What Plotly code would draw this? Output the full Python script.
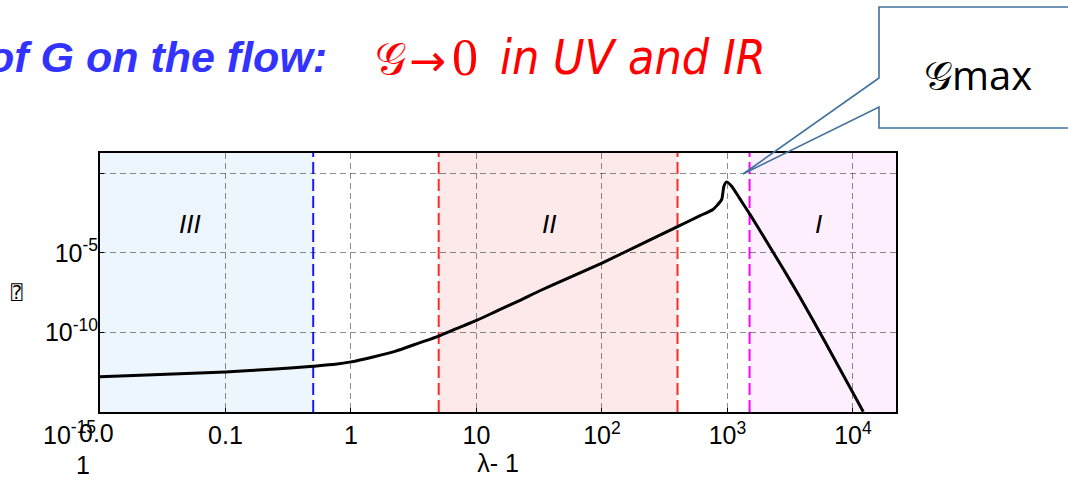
import numpy as np
import plotly.graph_objects as go

# Flow parameter (lambda - 1) and log10 of the coupling G along the trajectory
lam_minus_1 = [0.01, 0.03, 0.1, 0.25, 0.5, 0.75, 1, 1.5, 2.24, 3.5, 5, 7, 10, 15, 22, 32, 50,
               100, 200, 400, 600, 767, 830, 900, 937, 985, 1080, 1250, 1511, 2000,
               2787, 3784, 6000, 12080]
log10_G = [-12.79, -12.64, -12.48, -12.3, -12.12, -12.0, -11.85, -11.54, -11.19, -10.66, -10.23,
           -9.75, -9.25, -8.6, -8.0, -7.38, -6.7, -5.64, -4.5, -3.35, -2.68, -2.27,
           -2.0, -1.64, -0.81, -0.54, -0.81, -1.58, -2.58, -4.15, -6.02, -7.79, -10.6, -14.98]
G = [10.0 ** v for v in log10_G]

# Regime boundaries in lambda - 1
region_III = [0.01, 0.5]
region_II = [5, 400]
region_I = [1500, 1e5]

x_tickvals = [0.1, 1, 10, 100, 1000, 10000]
x_ticktext = ["0.1", "1", "10", "10<sup>2</sup>", "10<sup>3</sup>", "10<sup>4</sup>"]
y_tickvals = [1e-10, 1e-5, 1]
y_ticktext = ["10<sup>-10</sup>", "10<sup>-5</sup>", ""]

# Region labels: (text, lambda-1, G)
region_labels = [("III", 0.052, 6.2e-4), ("II", 37.8, 6.2e-4), ("I", 5358, 6.2e-4)]

W, H = 1068, 483
ML, MR, MT, MB = 100, 172, 153, 71
PW, PH = W - ML - MR, H - MT - MB


def px(x):
    return (x - ML) / PW


def py(y):
    return (H - MB - y) / PH


SANS = "Liberation Sans, Arial, sans-serif"
GRID = "rgba(0,0,0,0.45)"

fig = go.Figure()

fig.add_trace(go.Scatter(x=lam_minus_1, y=G, mode="lines",
                         line=dict(color="black", width=3, shape="spline", smoothing=0.6),
                         hoverinfo="skip"))

shapes = []
for (x0, x1), fill in [(region_III, "rgb(237,245,253)"),
                       (region_II, "rgb(253,233,234)"),
                       (region_I, "rgb(253,239,253)")]:
    shapes.append(dict(type="rect", xref="x", yref="paper", x0=x0, x1=x1, y0=0, y1=1,
                       fillcolor=fill, line=dict(width=0), layer="below"))

for xv, col in [(region_III[1], "#1a1aff"), (region_II[0], "#ff2a2a"),
                (region_II[1], "#ff2a2a"), (region_I[0], "#ff00ff")]:
    shapes.append(dict(type="line", xref="x", yref="paper", x0=xv, x1=xv, y0=0, y1=1,
                       line=dict(color=col, width=2, dash="12px,5px"), layer="below"))

# Callout box with pointer towards the maximum
callout = [(1080, 7), (879, 7), (879, 78), (743, 174), (879, 107), (879, 128), (1080, 128)]
path = "M " + " L ".join(f"{px(a):.5f},{py(b):.5f}" for a, b in callout)
shapes.append(dict(type="path", xref="paper", yref="paper", path=path,
                   line=dict(color="#41719C", width=1.6), fillcolor="rgba(0,0,0,0)",
                   layer="above"))

annotations = []
for txt, xv, yv in region_labels:
    annotations.append(dict(x=np.log10(xv), y=np.log10(yv), xref="x", yref="y",
                            text=f"<i>{txt}</i>", showarrow=False,
                            font=dict(family=SANS, size=26, color="black")))

# Odd first tick label at the left edge and bottom y label
annotations += [
    dict(x=px(98), y=py(433), xref="paper", yref="paper", xanchor="right", yanchor="middle",
         text="10<sup>-15</sup>", showarrow=False, font=dict(family=SANS, size=25, color="black")),
    dict(x=px(96), y=py(433), xref="paper", yref="paper", xanchor="center", yanchor="middle",
         text="0.0", showarrow=False, font=dict(family=SANS, size=25, color="black")),
    dict(x=px(83), y=py(465), xref="paper", yref="paper", xanchor="center", yanchor="middle",
         text="1", showarrow=False, font=dict(family=SANS, size=25, color="black")),
    dict(x=px(17), y=py(292), xref="paper", yref="paper", xanchor="center", yanchor="middle",
         text="⍰", showarrow=False, font=dict(family="DejaVu Sans Mono, DejaVu Sans", size=19, color="black")),
]

# Heading line
annotations += [
    dict(x=px(329), y=py(57), xref="paper", yref="paper", xanchor="right", yanchor="middle",
         text="<b><i>of G on the flow:</i></b>", showarrow=False,
         font=dict(family=SANS, size=43, color="#3333ff")),
    dict(x=px(390), y=py(58), xref="paper", yref="paper", xanchor="center", yanchor="middle",
         text="𝒢", showarrow=False,
         font=dict(family="DejaVu Serif, Noto Sans, serif", size=44, color="#ff0000")),
    dict(x=px(427), y=py(60), xref="paper", yref="paper", xanchor="center", yanchor="middle",
         text="→", showarrow=False,
         font=dict(family="DejaVu Sans, sans-serif", size=44, color="#ff0000")),
    dict(x=px(465), y=py(57), xref="paper", yref="paper", xanchor="center", yanchor="middle",
         text="0", showarrow=False,
         font=dict(family="Liberation Serif, serif", size=52, color="#ff0000")),
    dict(x=px(498), y=py(57), xref="paper", yref="paper", xanchor="left", yanchor="middle",
         text="<i>in UV and IR</i>", showarrow=False,
         font=dict(family="Liberation Sans Narrow, DejaVu Sans Condensed, Liberation Sans",
                   size=48, color="#ff0000")),
    dict(x=px(978), y=py(75), xref="paper", yref="paper", xanchor="center", yanchor="middle",
         text="𝒢max", showarrow=False,
         font=dict(family="Open Sans, Noto Sans, sans-serif", size=40, color="black")),
]

axis_common = dict(
    type="log", showline=True, mirror=True, linecolor="black", linewidth=2,
    ticks="inside", ticklen=4, tickcolor="black", tickwidth=1,
    showgrid=True, gridcolor=GRID, gridwidth=1, griddash="6px,4px",
    zeroline=False, tickfont=dict(family=SANS, size=25, color="black"),
)

fig.update_xaxes(range=[-2, 4.343], tickmode="array", tickvals=x_tickvals,
                 ticktext=x_ticktext,
                 title=dict(text="λ- 1", font=dict(family=SANS, size=25, color="black"),
                            standoff=6),
                 **axis_common)
fig.update_yaxes(range=[-15, 1.275], tickmode="array", tickvals=y_tickvals,
                 ticktext=y_ticktext, ticklabelstandoff=-5, **axis_common)

fig.update_layout(
    width=W, height=H, margin=dict(l=ML, r=MR, t=MT, b=MB, autoexpand=False),
    paper_bgcolor="white", plot_bgcolor="white", showlegend=False,
    shapes=shapes, annotations=annotations,
)

fig.write_html("out.html")
